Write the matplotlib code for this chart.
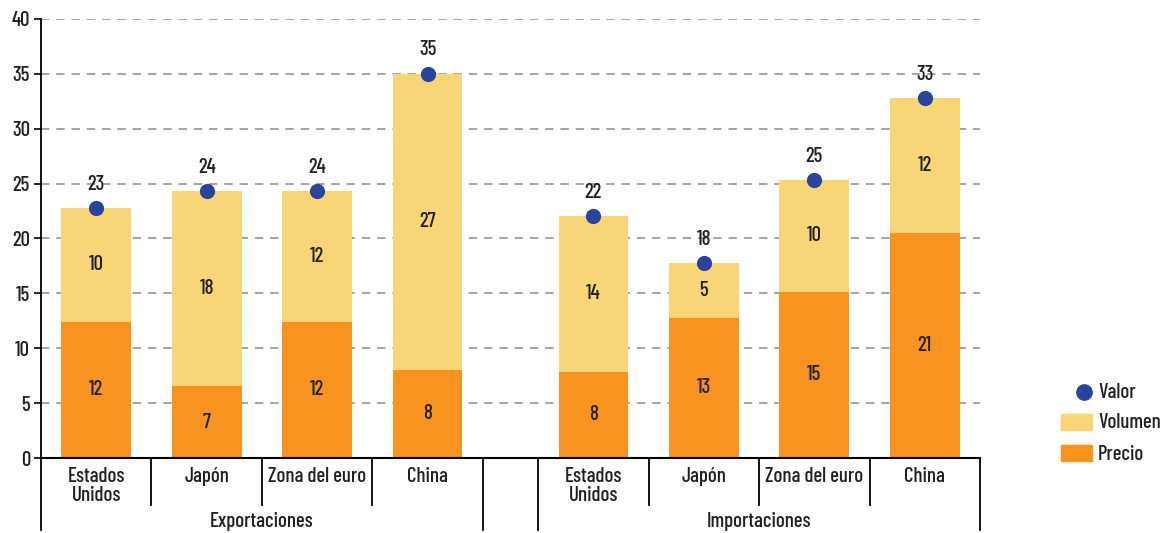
import matplotlib
matplotlib.use("Agg")
import matplotlib.pyplot as plt
import matplotlib.transforms as mtransforms
from matplotlib.patches import Rectangle
from matplotlib.lines import Line2D

plt.rcParams['font.family'] = ['Barlow Condensed', 'DejaVu Sans']
plt.rcParams['font.weight'] = 500

# --- data -------------------------------------------------------------
regions = ["Estados\nUnidos", "Japón", "Zona del euro", "China"]
groups = ["Exportaciones", "Importaciones"]

export_precio = [12.41, 6.52, 12.41, 8.04]
export_volumen = [10.39, 17.83, 11.94, 26.99]
export_valor = [22.80, 24.35, 24.35, 35.03]

import_precio = [7.86, 12.78, 15.15, 20.52]
import_volumen = [14.21, 5.01, 10.20, 12.29]
import_valor = [22.07, 17.79, 25.35, 32.81]

y_ticks = [0, 5, 10, 15, 20, 25, 30, 35, 40]

# --- style ------------------------------------------------------------
C_PRECIO = "#F7931E"
C_VOLUMEN = "#F8D677"
C_VALOR = "#2A439C"
C_TEXT = "#231F20"
C_GRID = "#8C8C8C"
FS = 15

fig = plt.figure(figsize=(11.7, 5.33), dpi=100)
ax = fig.add_axes([41 / 1170, 1 - 458 / 533, (980 - 41) / 1170, (458 - 19) / 533])

# x positions: four slots per group, half-slot gap between groups
x_exp = [0, 1, 2, 3]
x_imp = [4.5, 5.5, 6.5, 7.5]
width = 0.63

precio = export_precio + import_precio
volumen = export_volumen + import_volumen
valor = export_valor + import_valor
xs = x_exp + x_imp

ax.bar(xs, precio, width, color=C_PRECIO, zorder=2)
ax.bar(xs, volumen, width, bottom=precio, color=C_VOLUMEN, zorder=2)
ax.scatter(xs, valor, s=120, color=C_VALOR, zorder=4, linewidths=0)

for x, p, v, t in zip(xs, precio, volumen, valor):
    ax.text(x, p / 2, f"{p:.0f}", ha="center", va="center", fontsize=FS, color=C_TEXT, zorder=5)
    ax.text(x, p + v / 2, f"{v:.0f}", ha="center", va="center", fontsize=FS, color=C_TEXT, zorder=5)
    ax.annotate(f"{t:.0f}", (x, t), xytext=(0, 17), textcoords="offset points",
                ha="center", va="center", fontsize=FS, color=C_TEXT, zorder=5)

# axes
ax.set_xlim(-0.5, 8.0)
ax.set_ylim(0, 40)
ax.set_yticks(y_ticks)
ax.set_yticklabels([str(t) for t in y_ticks], fontsize=FS, color=C_TEXT)
ax.tick_params(axis="y", length=5, width=1.2, pad=3, color="black")
ax.set_xticks([])
for t in y_ticks[1:]:
    ax.axhline(t, color=C_GRID, lw=1.1, ls=(0, (5.5, 4.5)), zorder=1)
for side in ("top", "right"):
    ax.spines[side].set_visible(False)
ax.spines["left"].set_linewidth(1.3)
ax.spines["bottom"].set_linewidth(1.5)

# hierarchical category axis
trans = mtransforms.blended_transform_factory(ax.transData, ax.transAxes)
short_sep = -47 / 439
long_sep = -72 / 439
for edges in ([-0.5, 0.5, 1.5, 2.5, 3.5], [4.0, 5.0, 6.0, 7.0, 8.0]):
    for i, e in enumerate(edges):
        y1 = long_sep if i in (0, len(edges) - 1) else short_sep
        ax.add_line(Line2D([e, e], [0, y1], transform=trans, color="black",
                           lw=1.3, clip_on=False))

for xgrp in (x_exp, x_imp):
    for x, name in zip(xgrp, regions):
        ax.text(x, -0.020, name, transform=trans, ha="center", va="top",
                fontsize=FS, color=C_TEXT, linespacing=1.0)

ax.text(sum(x_exp) / 4, -0.123, groups[0], transform=trans, ha="center", va="top",
        fontsize=FS, color=C_TEXT)
ax.text(sum(x_imp) / 4, -0.123, groups[1], transform=trans, ha="center", va="top",
        fontsize=FS, color=C_TEXT)

# legend
def fx(px):
    return px / 1170


def fy(py):
    return 1 - py / 533


fig.add_artist(Line2D([fx(1084)], [fy(392)], marker="o", ms=11, color=C_VALOR,
                      linestyle="none", transform=fig.transFigure))
fig.add_artist(Rectangle((fx(1061), fy(430)), fx(31), 16 / 533, color=C_VOLUMEN,
                         transform=fig.transFigure))
fig.add_artist(Rectangle((fx(1061), fy(461)), fx(31), 16 / 533, color=C_PRECIO,
                         transform=fig.transFigure))
for py, label in ((392, "Valor"), (423, "Volumen"), (454, "Precio")):
    fig.text(fx(1098), fy(py), label, ha="left", va="center", fontsize=FS, color=C_TEXT)

fig.savefig("out.png", dpi=100)
